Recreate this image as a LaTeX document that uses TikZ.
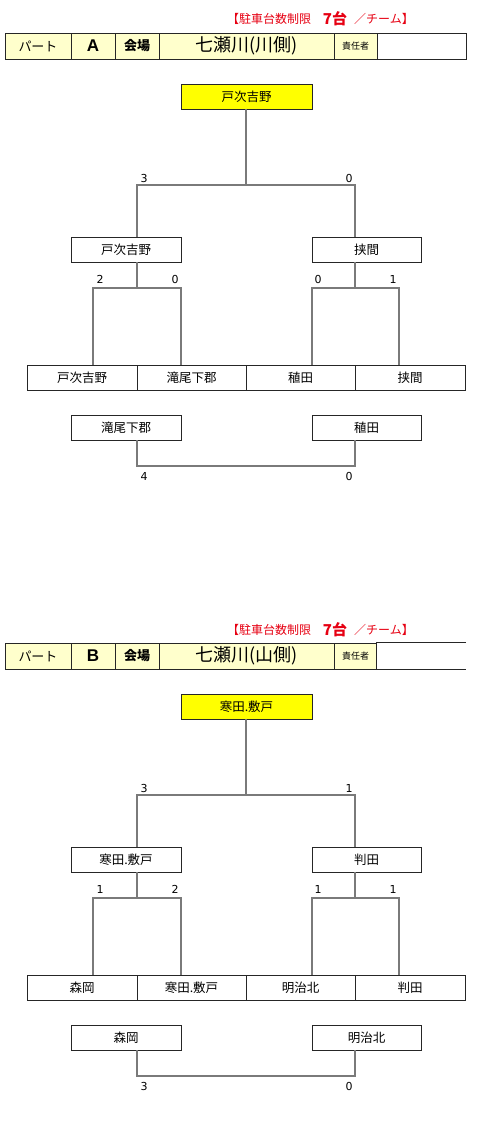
\documentclass[tikz,border=0pt]{standalone}
\usepackage{fontspec}
\setmainfont{Noto Sans CJK JP}
\newfontfamily\latinbold{Liberation Sans}
\newfontfamily\digitfont{DejaVu Sans}
\definecolor{cream}{HTML}{FFFFCC}
\definecolor{hl}{HTML}{FFFF00}
\definecolor{redtxt}{HTML}{E60012}
\definecolor{lncol}{HTML}{7A7A7A}
\tikzset{
  box/.style={draw=black!85,line width=0.8pt,rectangle,inner sep=0pt,minimum height=25pt,font=\fontsize{12.5}{12.5}\selectfont},
  hcell/.style={draw=black!85,line width=0.8pt,fill=cream,rectangle,inner sep=0pt,minimum height=26pt},
  conn/.style={draw=lncol,line width=1.3pt},
  score/.style={font=\digitfont\fontsize{11}{11}\selectfont,inner sep=0pt},
  redt/.style={text=redtxt,inner sep=0pt,font=\fontsize{12}{12}\selectfont},
}
\begin{document}
\begin{tikzpicture}[x=1pt,y=-1pt]
\useasboundingbox (0,0) rectangle (479,1128);
% ===================== PART A =====================
\begin{scope}
\node[redt] (a-r1) at (269,19) {【駐車台数制限};
\node[redt,font=\fontsize{15}{15}\selectfont\bfseries] (a-r2) at (335,19) {7台};
\node[redt] (a-r3) at (384,19) {／チーム】};
\node[hcell,minimum width=66pt,font=\fontsize{13}{13}\selectfont] (a-h1) at (38,46) {パート};
\node[hcell,minimum width=44pt,font=\latinbold\fontsize{17}{17}\selectfont\bfseries] (a-h2) at (93,46) {A};
\node[hcell,minimum width=44pt,font=\fontsize{13}{13}\selectfont\bfseries] (a-h3) at (137,46) {会場};
\node[hcell,minimum width=175pt,font=\fontsize{18}{18}\selectfont] (a-h4) at (246.5,46) {七瀬川(川側)};
\node[hcell,minimum width=43pt,font=\fontsize{9}{9}\selectfont] (a-h5) at (355.5,46) {責任者};
\node[hcell,fill=white,minimum width=89pt] (a-h6) at (421.5,46) {};
% winner
\node[box,fill=hl,minimum width=131pt] (a-w) at (246.5,96.5) {戸次吉野};
% semis
\node[box,minimum width=110pt] (a-sl) at (126,249.5) {戸次吉野};
\node[box,minimum width=109pt] (a-sr) at (366.5,249.5) {挟間};
% first round row
\node[box,minimum width=110pt] (a-b1) at (82,377.5) {戸次吉野};
\node[box,minimum width=109pt] (a-b2) at (191.5,377.5) {滝尾下郡};
\node[box,minimum width=109pt] (a-b3) at (300.5,377.5) {稙田};
\node[box,minimum width=110pt] (a-b4) at (410,377.5) {挟間};
% third place
\node[box,minimum width=110pt] (a-tl) at (126,427.5) {滝尾下郡};
\node[box,minimum width=109pt] (a-tr) at (366.5,427.5) {稙田};
% junction coordinates
\coordinate (a-top) at (246,185);
\coordinate (a-fL) at (137,185);
\coordinate (a-fR) at (355,185);
\coordinate (a-mLL) at (93,288);
\coordinate (a-mLR) at (181,288);
\coordinate (a-mRL) at (312,288);
\coordinate (a-mRR) at (399,288);
\coordinate (a-tL) at (137,466);
\coordinate (a-tR) at (355,466);
% connectors
\draw[conn] (a-w.south -| a-top) -- (a-top);
\draw[conn] (a-sl.north -| a-fL) -- (a-fL) -- (a-fR) -- (a-sr.north -| a-fR);
\draw[conn] (a-sl.south -| a-fL) -- (a-fL |- a-mLL);
\draw[conn] (a-b1.north -| a-mLL) -- (a-mLL) -- (a-mLR) -- (a-b2.north -| a-mLR);
\draw[conn] (a-sr.south -| a-fR) -- (a-fR |- a-mRL);
\draw[conn] (a-b3.north -| a-mRL) -- (a-mRL) -- (a-mRR) -- (a-b4.north -| a-mRR);
\draw[conn] (a-tl.south -| a-tL) -- (a-tL) -- (a-tR) -- (a-tr.south -| a-tR);
% scores
\node[score] (a-s1) at (144,178) {3};
\node[score] (a-s2) at (349,178) {0};
\node[score] (a-s3) at (100,279) {2};
\node[score] (a-s4) at (175,279) {0};
\node[score] (a-s5) at (318,279) {0};
\node[score] (a-s6) at (393,279) {1};
\node[score] (a-s7) at (144,476) {4};
\node[score] (a-s8) at (349,476) {0};
\end{scope}
% ===================== PART B =====================
\begin{scope}[yshift=-610pt]
\node[redt] (b-r1) at (269,20) {【駐車台数制限};
\node[redt,font=\fontsize{15}{15}\selectfont\bfseries] (b-r2) at (335,20) {7台};
\node[redt] (b-r3) at (384,20) {／チーム】};
\node[hcell,minimum width=66pt,font=\fontsize{13}{13}\selectfont] (b-h1) at (38,46) {パート};
\node[hcell,minimum width=44pt,font=\latinbold\fontsize{17}{17}\selectfont\bfseries] (b-h2) at (93,46) {B};
\node[hcell,minimum width=44pt,font=\fontsize{13}{13}\selectfont\bfseries] (b-h3) at (137,46) {会場};
\node[hcell,minimum width=175pt,font=\fontsize{18}{18}\selectfont] (b-h4) at (246.5,46) {七瀬川(山側)};
\node[hcell,minimum width=43pt,font=\fontsize{9}{9}\selectfont] (b-h5) at (355.5,46) {責任者};
\node[rectangle,fill=white,inner sep=0pt,minimum height=26pt,minimum width=89pt] (b-h6) at (421.5,46) {};
\draw[draw=black!85,line width=0.8pt] (b-h6.north east) -- (b-h6.north west) -- (b-h6.south west) -- (b-h6.south east);
% winner
\node[box,fill=hl,minimum width=131pt] (b-w) at (246.5,96.5) {寒田.敷戸};
% semis
\node[box,minimum width=110pt] (b-sl) at (126,249.5) {寒田.敷戸};
\node[box,minimum width=109pt] (b-sr) at (366.5,249.5) {判田};
% first round row
\node[box,minimum width=110pt] (b-b1) at (82,377.5) {森岡};
\node[box,minimum width=109pt] (b-b2) at (191.5,377.5) {寒田.敷戸};
\node[box,minimum width=109pt] (b-b3) at (300.5,377.5) {明治北};
\node[box,minimum width=110pt] (b-b4) at (410,377.5) {判田};
% third place
\node[box,minimum width=110pt] (b-tl) at (126,427.5) {森岡};
\node[box,minimum width=109pt] (b-tr) at (366.5,427.5) {明治北};
% junction coordinates
\coordinate (b-top) at (246,185);
\coordinate (b-fL) at (137,185);
\coordinate (b-fR) at (355,185);
\coordinate (b-mLL) at (93,288);
\coordinate (b-mLR) at (181,288);
\coordinate (b-mRL) at (312,288);
\coordinate (b-mRR) at (399,288);
\coordinate (b-tL) at (137,466);
\coordinate (b-tR) at (355,466);
% connectors
\draw[conn] (b-w.south -| b-top) -- (b-top);
\draw[conn] (b-sl.north -| b-fL) -- (b-fL) -- (b-fR) -- (b-sr.north -| b-fR);
\draw[conn] (b-sl.south -| b-fL) -- (b-fL |- b-mLL);
\draw[conn] (b-b1.north -| b-mLL) -- (b-mLL) -- (b-mLR) -- (b-b2.north -| b-mLR);
\draw[conn] (b-sr.south -| b-fR) -- (b-fR |- b-mRL);
\draw[conn] (b-b3.north -| b-mRL) -- (b-mRL) -- (b-mRR) -- (b-b4.north -| b-mRR);
\draw[conn] (b-tl.south -| b-tL) -- (b-tL) -- (b-tR) -- (b-tr.south -| b-tR);
% scores
\node[score] (b-s1) at (144,178) {3};
\node[score] (b-s2) at (349,178) {1};
\node[score] (b-s3) at (100,279) {1};
\node[score] (b-s4) at (175,279) {2};
\node[score] (b-s5) at (318,279) {1};
\node[score] (b-s6) at (393,279) {1};
\node[score] (b-s7) at (144,476) {3};
\node[score] (b-s8) at (349,476) {0};
\end{scope}
\end{tikzpicture}
\end{document}
